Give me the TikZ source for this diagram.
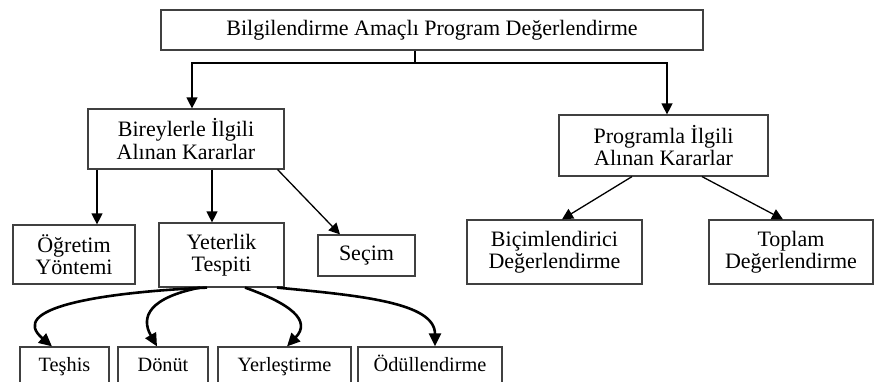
\documentclass[tikz,border=0pt]{standalone}
\usepackage{fontspec}
\setmainfont{Liberation Serif}
\usetikzlibrary{arrows.meta}

\begin{document}
\begin{tikzpicture}[x=1pt, y=1pt,
                    box/.style={draw=black!75,
                                line width=1.2pt,
                                align=center,
                                inner sep=0pt,
                                font=\fontsize{22}{22.5}\selectfont},
                    leaf/.style={box,
                                 text height=14pt,
                                 text depth=4.6pt,
                                 font=\fontsize{20.3}{22}\selectfont},
                    link/.style={line width=1.3pt,
                                 -{Triangle[length=11pt,width=11pt]}},
                    curvelink/.style={line width=2.6pt,
                                 -{Triangle[length=13pt,width=12pt]}}]
                      \clip (0,0) rectangle (874,382);

                      \node[box, minimum width=542pt, minimum height=40pt] (main) at (432, 352) {Bilgilendirme Amaçlı Program Değerlendirme};

                      \node[box, minimum width=196pt, minimum height=60pt] (birey) at (186, 243) {Bireylerle İlgili\\Alınan Kararlar};
                      \node[box, minimum width=209pt, minimum height=61pt] (prog) at (663.5, 236.5) {Programla İlgili\\Alınan Kararlar};

                      \node[box, minimum width=122pt, minimum height=59pt] (ogretim) at (74, 127.5) {Öğretim\\Yöntemi};
                      \node[box, minimum width=125pt, minimum height=64pt] (yeter) at (221.5, 127) {Yeterlik\\Tespiti};
                      \node[box, minimum width=97pt, minimum height=41pt] (secim) at (366.5, 126.5) {Seçim};
                      \node[box, minimum width=175pt, minimum height=64pt] (bicim) at (554.5, 130) {Biçimlendirici\\Değerlendirme};
                      \node[box, minimum width=164pt, minimum height=64pt] (toplam) at (791, 130) {Toplam\\Değerlendirme};

                      \node[leaf, minimum width=89pt, minimum height=40pt] (teshis) at (64.5, 15) {Teşhis};
                      \node[leaf, minimum width=90pt, minimum height=40pt] (donut) at (163, 15) {Dönüt};
                      \node[leaf, minimum width=133pt, minimum height=40pt] (yerles) at (284.5, 15) {Yerleştirme};
                      \node[leaf, minimum width=144pt, minimum height=40pt] (odul) at (430, 15) {Ödüllendirme};

                      % split under the main box
                      \coordinate (split) at (415, 319);
                      \draw[line width=1.3pt] (split |- main.south) -- (split);
                      \draw[link] (split) -| ([xshift=6pt]birey.north);
                      \draw[link] (split) -| ([xshift=3.5pt]prog.north);

                      \draw[link] ([xshift=-89pt]birey.south) -- ([xshift=-89pt]birey.south |- ogretim.north);
                      \draw[link] ([xshift=26pt]birey.south) -- ([xshift=26pt]birey.south |- yeter.north);
                      \draw[link] ([xshift=-7pt]birey.south east) -- ([xshift=-26.5pt]secim.north);
                      \draw[link] ([xshift=-31.5pt]prog.south) -- ([xshift=7.5pt]bicim.north);
                      \draw[link] ([xshift=38.5pt]prog.south) -- ([xshift=-8pt]toplam.north);

                      % curved arrows out of Yeterlik Tespiti
                      \draw[curvelink] ([xshift=-14.5pt]yeter.south) .. controls +(-110,-5) and +(-45,38) .. ([xshift=-12.5pt]teshis.north);
                      \draw[curvelink] ([xshift=-21.5pt]yeter.south) .. controls +(-50,-10) and +(-17,30) .. ([xshift=-6pt]donut.north);
                      \draw[curvelink] ([xshift=23.5pt]yeter.south) .. controls +(45,-16) and +(25,26) .. ([xshift=2.5pt]yerles.north);
                      \draw[curvelink] ([xshift=55.5pt]yeter.south) .. controls +(83,-8) and +(0,44) .. ([xshift=5pt]odul.north);
                  \end{tikzpicture}
\end{document}
